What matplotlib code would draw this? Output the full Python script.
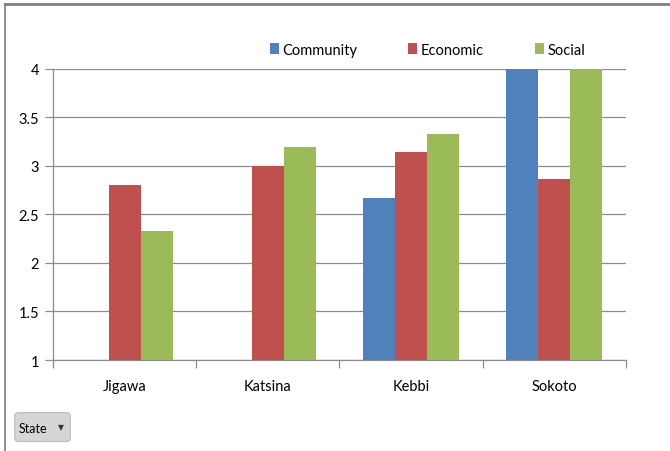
import numpy as np
import matplotlib.pyplot as plt
from matplotlib.patches import FancyBboxPatch
from matplotlib.lines import Line2D

plt.rcParams['font.family'] = ['Lato', 'DejaVu Sans']

states = ['Jigawa', 'Katsina', 'Kebbi', 'Sokoto']
community = [np.nan, np.nan, 2.67, 4.0]
economic = [2.8, 3.0, 3.14, 2.87]
social = [2.33, 3.2, 3.33, 4.0]

series = [('Community', community, '#4f81bd'),
          ('Economic', economic, '#c0504d'),
          ('Social', social, '#9bbb59')]

fig = plt.figure(figsize=(6.7, 4.52), dpi=100)
ax = fig.add_axes([0.0791, 0.2013, 0.855, 0.644])

x = np.arange(len(states))
w = 0.224
for i, (name, vals, col) in enumerate(series):
    ax.bar(x + (i - 1) * w, np.array(vals) - 1, bottom=1, width=w,
           color=col, label=name, zorder=3)

ax.set_xlim(-0.5, len(states) - 0.5)
ax.set_ylim(1, 4)
ax.set_yticks(np.arange(1, 4.01, 0.5))
ax.set_yticklabels(['1', '1.5', '2', '2.5', '3', '3.5', '4'])
ax.yaxis.grid(True, color='#8c8c8c', lw=0.9, zorder=0)

# category labels centred, ticks on the boundaries
ax.set_xticks(x)
ax.set_xticklabels(states)
ax.set_xticks(np.arange(-0.5, len(states)), minor=True)
ax.tick_params(axis='x', which='major', length=0, pad=14, labelsize=10.5)
ax.tick_params(axis='x', which='minor', length=6, color='#8c8c8c', width=0.9)
ax.tick_params(axis='y', length=6, color='#8c8c8c', width=0.9, pad=4, labelsize=10.5)

for s in ['top', 'right']:
    ax.spines[s].set_visible(False)
for s in ['left', 'bottom']:
    ax.spines[s].set_color('#8c8c8c')
    ax.spines[s].set_linewidth(0.9)

fig.legend(*ax.get_legend_handles_labels(), loc='center left',
           bbox_to_anchor=(0.403, 0.888), bbox_transform=fig.transFigure,
           ncol=3, frameon=False, fontsize=10.5, handlelength=0.6,
           handleheight=0.85, handletextpad=0.25, columnspacing=3.5,
           borderaxespad=0, borderpad=0)

# chart border (top and left edges)
fig.add_artist(Line2D([0.0075, 1.0], [0.988, 0.988], transform=fig.transFigure,
                      color='#7f7f7f', lw=2))
fig.add_artist(Line2D([0.0075, 0.0075], [0.0, 0.988], transform=fig.transFigure,
                      color='#7f7f7f', lw=1.2))

# field button at the bottom
btn = FancyBboxPatch((0.022, 0.021), 0.083, 0.064, boxstyle='round,pad=0,rounding_size=0.007',
                     transform=fig.transFigure, facecolor='#d6d6d6',
                     edgecolor='#bdbdbd', lw=0.8)
fig.patches.append(btn)
fig.text(0.028, 0.051, 'State', fontsize=9, va='center', ha='left')
fig.text(0.091, 0.054, '\u25bc', fontsize=5.5, va='center', ha='center',
         family='DejaVu Sans', color='#333333')

fig.savefig('out.png', dpi=100)
